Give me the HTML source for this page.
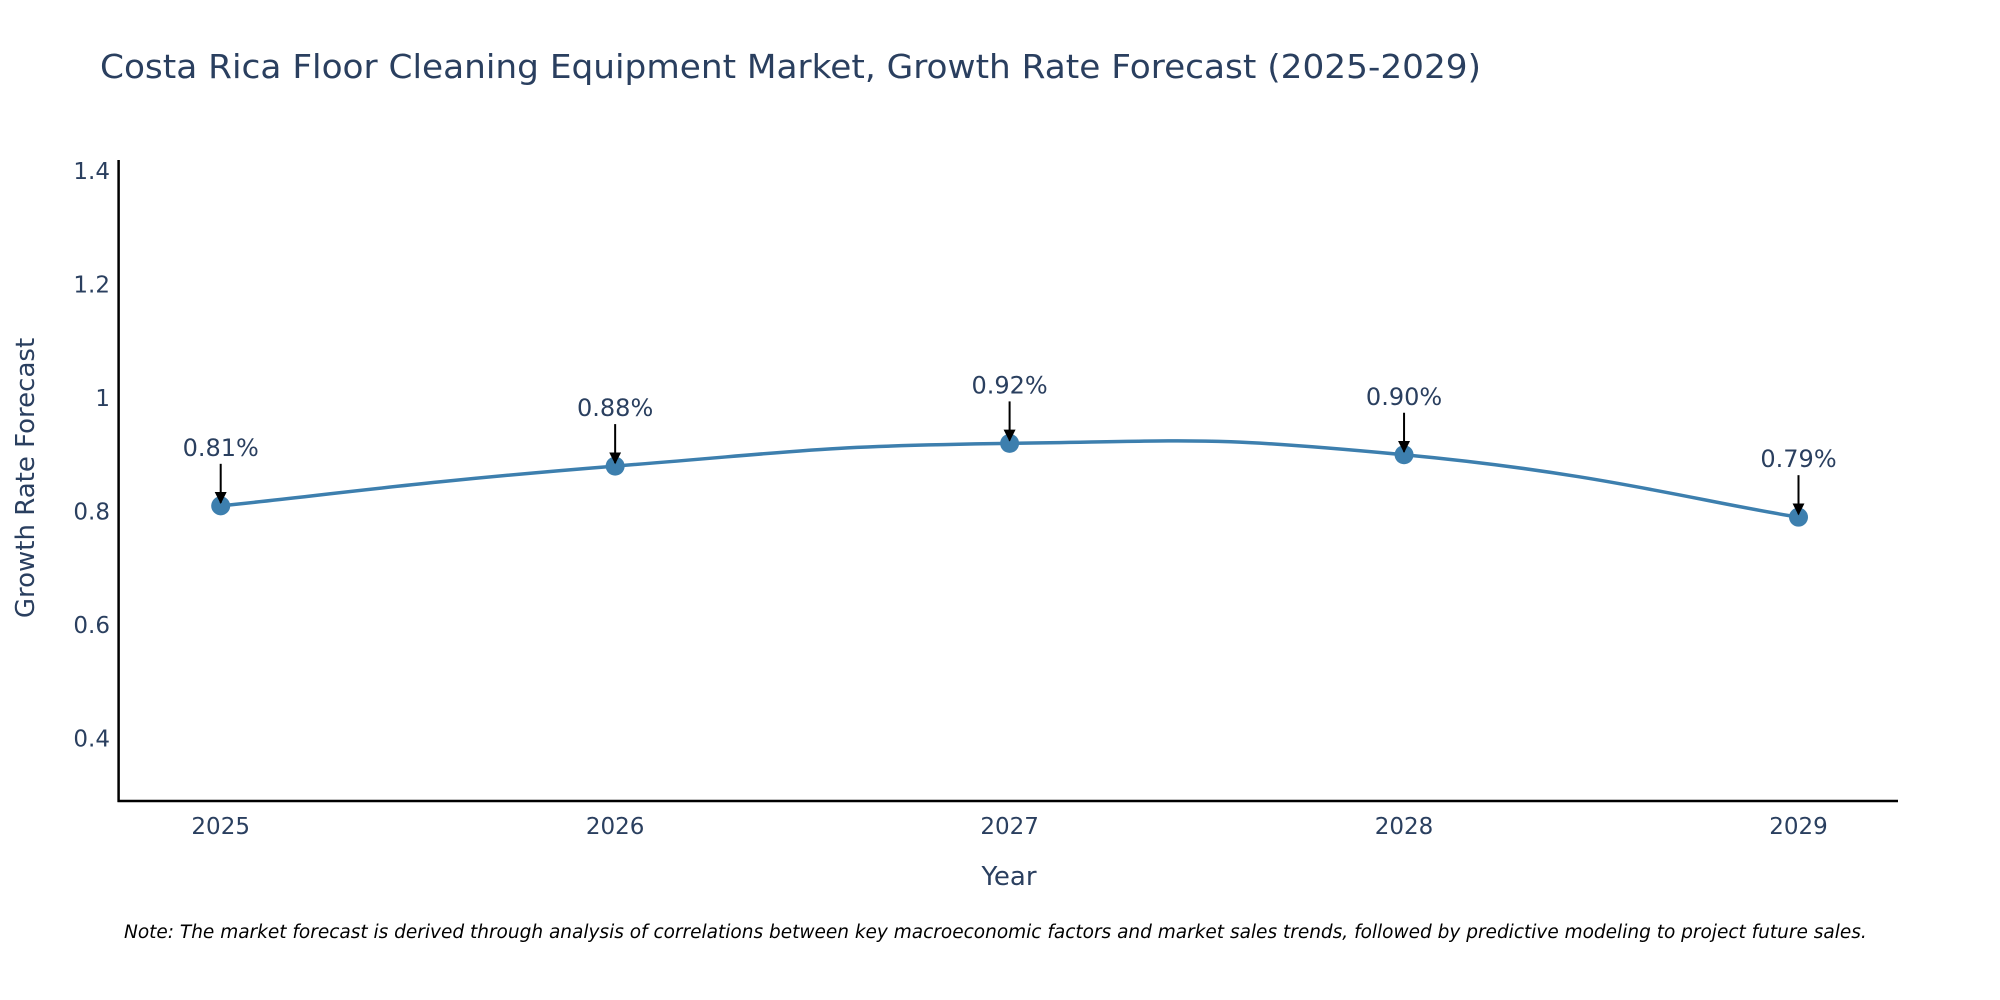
<!DOCTYPE html>
<html><head><meta charset="utf-8"><style>
html,body{margin:0;padding:0;background:#fff;}
svg{display:block;font-family:"DejaVu Sans","Liberation Sans",sans-serif;}
</style></head><body>
<svg id="chart" width="2000" height="1000" viewBox="0 0 2000 1000">
<defs><marker id="ah" viewBox="0 0 10 10" refX="9" refY="5" markerWidth="6" markerHeight="6" markerUnits="strokeWidth" orient="auto"><path d="M0,0 L10,5 L0,10 z" fill="#000"/></marker></defs>
<text x="100" y="78" font-size="33" fill="#2a3f5f" textLength="1381" lengthAdjust="spacingAndGlyphs">Costa Rica Floor Cleaning Equipment Market, Growth Rate Forecast (2025-2029)</text>
<g id="yticks"></g>
<g id="xticks"></g>
<line x1="118.6" y1="160" x2="118.6" y2="802" stroke="#000" stroke-width="2.5"/>
<line x1="117.5" y1="801" x2="1898" y2="801" stroke="#000" stroke-width="2.5"/>
<path id="line" fill="none" stroke="#3d7fae" stroke-width="3.5"/>
<g id="pts"></g>
<g id="ann"></g>
<text x="1009" y="885" font-size="26" fill="#2a3f5f" text-anchor="middle">Year</text>
<text transform="translate(34,478) rotate(-90)" font-size="26" fill="#2a3f5f" text-anchor="middle">Growth Rate Forecast</text>
<text x="124" y="938" font-size="18.5" font-style="italic" fill="#000">Note: The market forecast is derived through analysis of correlations between key macroeconomic factors and market sales trends, followed by predictive modeling to project future sales.</text>
</svg>
<script>
const years = [2025, 2026, 2027, 2028, 2029];
const values = [0.81, 0.88, 0.92, 0.90, 0.79];
const labels = ["0.81%", "0.88%", "0.92%", "0.90%", "0.79%"];
const yTickValues = [0.4, 0.6, 0.8, 1.0, 1.2, 1.4];
const yTickLabels = ["0.4", "0.6", "0.8", "1", "1.2", "1.4"];

const NS = "http://www.w3.org/2000/svg";
function xs(v){ return 220.7 + (v - 2025) * (1798.5 - 220.7) / 4; }
function ys(v){ return 738.5 - (v - 0.4) * (738.5 - 171) / 1.0; }
function mk(tag, attrs, parent){ const e = document.createElementNS(NS, tag); for (const k in attrs) e.setAttribute(k, attrs[k]); parent.appendChild(e); return e; }

const yt = document.getElementById('yticks');
yTickValues.forEach((v, i) => {
  const t = mk('text', {x: 110, y: ys(v) + 8, 'font-size': 23, fill: '#2a3f5f', 'text-anchor': 'end'}, yt);
  
  
  t.textContent = yTickLabels[i];
});
const xt = document.getElementById('xticks');
years.forEach(y => {
  const t = mk('text', {x: xs(y), y: 834, 'font-size': 23, fill: '#2a3f5f', 'text-anchor': 'middle'}, xt);
  
  
  t.textContent = String(y);
});

const P = years.map((y, i) => [xs(y), ys(values[i])]);
let d = 'M' + P[0][0] + ',' + P[0][1];
const s = 0.25;
for (let i = 0; i < P.length - 1; i++) {
  const p0 = P[Math.max(0, i - 1)], p1 = P[i], p2 = P[i + 1], p3 = P[Math.min(P.length - 1, i + 2)];
  const c1 = [p1[0] + (p2[0] - p0[0]) * s, p1[1] + (p2[1] - p0[1]) * s];
  const c2 = [p2[0] - (p3[0] - p1[0]) * s, p2[1] - (p3[1] - p1[1]) * s];
  d += ' C' + c1[0] + ',' + c1[1] + ' ' + c2[0] + ',' + c2[1] + ' ' + p2[0] + ',' + p2[1];
}
document.getElementById('line').setAttribute('d', d);

const pts = document.getElementById('pts'), ann = document.getElementById('ann');
P.forEach((p, i) => {
  const c = mk('circle', {cx: p[0], cy: p[1], r: 9.5, fill: '#3d7fae'}, pts);
  
  
  const a = mk('line', {x1: p[0], y1: p[1] - 42, x2: p[0], y2: p[1] - 3, stroke: '#000', 'stroke-width': 2, 'marker-end': 'url(#ah)'}, ann);
  
  
  const t = mk('text', {x: p[0], y: p[1] - 50, 'font-size': 24, fill: '#2a3f5f', 'text-anchor': 'middle'}, ann);
  
  
  t.textContent = labels[i];
});
</script>
</body></html>
